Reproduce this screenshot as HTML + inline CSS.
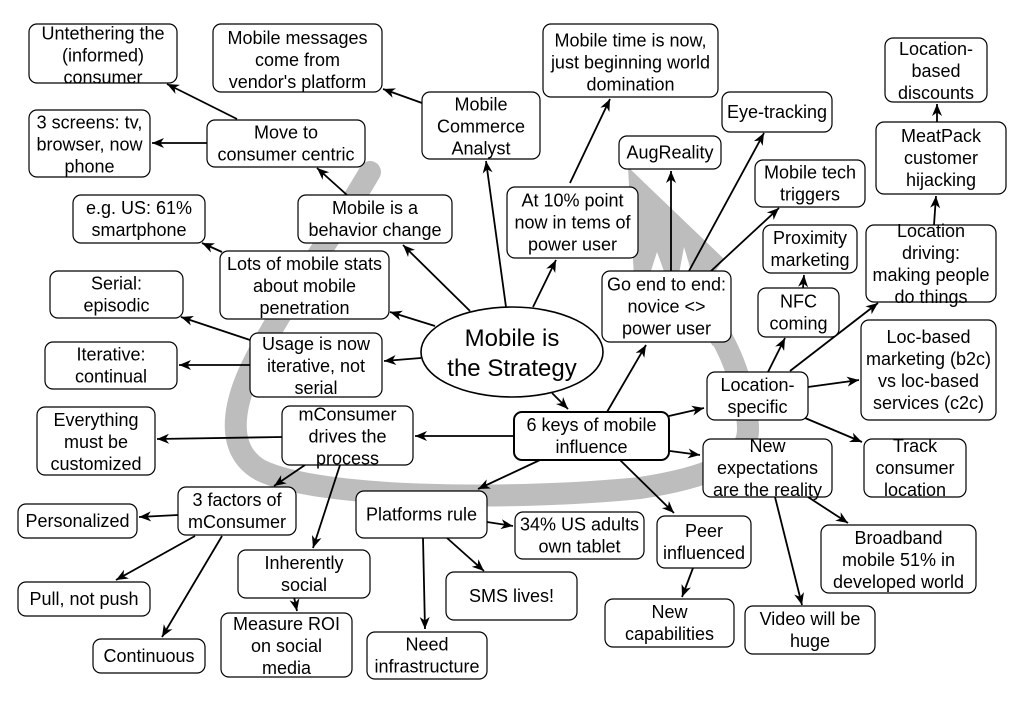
<!DOCTYPE html>
<html><head><meta charset="utf-8"><style>
html,body{margin:0;padding:0;background:#fff;}
svg{display:block;}
text{font-family:"Liberation Sans",Arial,sans-serif;font-size:18px;fill:#000;text-anchor:middle;}
.b{fill:#fff;stroke:#000;stroke-width:1.2;}
.l{stroke:#000;stroke-width:1.8;fill:none;marker-end:url(#ah);}
</style></head><body>
<svg width="1033" height="704" viewBox="0 0 1033 704" xmlns="http://www.w3.org/2000/svg">
<defs>
<marker id="ah" markerUnits="userSpaceOnUse" markerWidth="14" markerHeight="12" viewBox="-13 -6 14 12" refX="0" refY="0" orient="auto">
<path d="M-12,-5 L0,0 L-12,5 L-8.5,0 Z" fill="#000"/>
</marker>
</defs>
<rect width="1033" height="704" fill="#fff"/>
<!-- gray cycle arrow -->
<path d="M370,172 C330,240 280,310 255,360 C232,405 225,450 260,470 C320,500 520,500 640,488 C705,478 748,462 748,430 C748,400 735,360 720,335" fill="none" stroke="#bdbdbd" stroke-width="22" stroke-linecap="round"/>
<line x1="722" y1="340" x2="678" y2="272" stroke="#bdbdbd" stroke-width="22"/>
<polygon points="628,167 724,259 714,273 634,277" fill="#bdbdbd"/>
<polygon points="650,274 657,252 665,274" fill="#fff"/>
<polygon points="679,274 684,247 692,274" fill="#fff"/>
<!-- connectors -->
<line class="l" x1="237" y1="119" x2="167" y2="84"/>
<line class="l" x1="207" y1="143" x2="152" y2="143"/>
<line class="l" x1="422" y1="103" x2="383" y2="89"/>
<line class="l" x1="347" y1="195" x2="317" y2="168"/>
<line class="l" x1="222" y1="252" x2="202" y2="243"/>
<line class="l" x1="470" y1="311" x2="403" y2="245"/>
<line class="l" x1="435" y1="326" x2="390" y2="312"/>
<line class="l" x1="421" y1="358" x2="384" y2="361"/>
<line class="l" x1="506" y1="307" x2="486" y2="161"/>
<line class="l" x1="533" y1="307" x2="556" y2="260"/>
<line class="l" x1="570" y1="183" x2="610" y2="99"/>
<line class="l" x1="552" y1="393" x2="568" y2="409"/>
<line class="l" x1="250" y1="340" x2="181" y2="317"/>
<line class="l" x1="250" y1="365" x2="179" y2="365"/>
<line class="l" x1="282" y1="437" x2="157" y2="439"/>
<line class="l" x1="514" y1="436" x2="415" y2="436"/>
<line class="l" x1="305" y1="465" x2="274" y2="486"/>
<line class="l" x1="340" y1="465" x2="313" y2="548"/>
<line class="l" x1="178" y1="515" x2="139" y2="517"/>
<line class="l" x1="195" y1="536" x2="116" y2="580"/>
<line class="l" x1="222" y1="536" x2="162" y2="637"/>
<line class="l" x1="294" y1="597" x2="297" y2="611"/>
<line class="l" x1="540" y1="460" x2="478" y2="489"/>
<line class="l" x1="487" y1="522" x2="513" y2="526"/>
<line class="l" x1="447" y1="538" x2="484" y2="571"/>
<line class="l" x1="423" y1="538" x2="425" y2="629"/>
<line class="l" x1="620" y1="460" x2="674" y2="513"/>
<line class="l" x1="607" y1="412" x2="646" y2="345"/>
<line class="l" x1="669" y1="416" x2="704" y2="408"/>
<line class="l" x1="670" y1="451" x2="700" y2="455"/>
<line class="l" x1="671" y1="271" x2="671" y2="171"/>
<line class="l" x1="689" y1="271" x2="764" y2="133"/>
<line class="l" x1="711" y1="271" x2="779" y2="208"/>
<line class="l" x1="768" y1="372" x2="785" y2="338"/>
<line class="l" x1="803" y1="288" x2="804" y2="275"/>
<line class="l" x1="790" y1="371" x2="878" y2="303"/>
<line class="l" x1="808" y1="387" x2="859" y2="380"/>
<line class="l" x1="805" y1="418" x2="862" y2="442"/>
<line class="l" x1="934" y1="225" x2="936" y2="196"/>
<line class="l" x1="937" y1="122" x2="937" y2="104"/>
<line class="l" x1="775" y1="497" x2="802" y2="605"/>
<line class="l" x1="808" y1="497" x2="848" y2="523"/>
<line class="l" x1="693" y1="568" x2="682" y2="597"/>
<!-- nodes -->
<rect class="b" x="29" y="24" width="148" height="59" rx="8"/>
<text x="103"><tspan y="39.5" x="103">Untethering the</tspan><tspan y="61.5" x="103">(informed)</tspan><tspan y="83.5" x="103">consumer</tspan></text>
<rect class="b" x="213" y="24" width="169" height="68" rx="8"/>
<text><tspan y="44" x="297.5">Mobile messages</tspan><tspan y="66" x="297.5">come from</tspan><tspan y="88" x="297.5">vendor's platform</tspan></text>
<rect class="b" x="29" y="110" width="121" height="67" rx="8"/>
<text><tspan y="128.5" x="89.5">3 screens: tv,</tspan><tspan y="150.5" x="89.5">browser, now</tspan><tspan y="172.5" x="89.5">phone</tspan></text>
<rect class="b" x="207" y="120" width="158" height="47" rx="8"/>
<text><tspan y="138.5" x="286">Move to</tspan><tspan y="160.5" x="286">consumer centric</tspan></text>
<rect class="b" x="422" y="92" width="118" height="67" rx="8"/>
<text><tspan y="110.5" x="481">Mobile</tspan><tspan y="132.5" x="481">Commerce</tspan><tspan y="154.5" x="481">Analyst</tspan></text>
<rect class="b" x="73" y="195" width="132" height="48" rx="8"/>
<text><tspan y="214" x="139">e.g. US: 61%</tspan><tspan y="236" x="139">smartphone</tspan></text>
<rect class="b" x="298" y="195" width="154" height="48" rx="8"/>
<text><tspan y="214" x="375">Mobile is a</tspan><tspan y="236" x="375">behavior change</tspan></text>
<rect class="b" x="543" y="24" width="175" height="73" rx="8"/>
<text><tspan y="46.5" x="630.5">Mobile time is now,</tspan><tspan y="68.5" x="630.5">just beginning world</tspan><tspan y="90.5" x="630.5">domination</tspan></text>
<rect class="b" x="722" y="92" width="110" height="40" rx="8"/>
<text><tspan y="118" x="777">Eye-tracking</tspan></text>
<rect class="b" x="619" y="136" width="102" height="33" rx="8"/>
<text><tspan y="158.5" x="670">AugReality</tspan></text>
<rect class="b" x="885" y="38" width="102" height="64" rx="8"/>
<text><tspan y="55" x="936">Location-</tspan><tspan y="77" x="936">based</tspan><tspan y="99" x="936">discounts</tspan></text>
<rect class="b" x="876" y="122" width="130" height="72" rx="8"/>
<text><tspan y="142" x="941">MeatPack</tspan><tspan y="164" x="941">customer</tspan><tspan y="186" x="941">hijacking</tspan></text>
<rect class="b" x="755" y="160" width="110" height="47" rx="8"/>
<text><tspan y="178.5" x="810">Mobile tech</tspan><tspan y="200.5" x="810">triggers</tspan></text>
<rect class="b" x="507" y="187" width="131" height="71" rx="8"/>
<text><tspan y="206.5" x="572.5">At 10% point</tspan><tspan y="228.5" x="572.5">now in tems of</tspan><tspan y="250.5" x="572.5">power user</tspan></text>
<rect class="b" x="763" y="225" width="94" height="48" rx="8"/>
<text><tspan y="244" x="810">Proximity</tspan><tspan y="266" x="810">marketing</tspan></text>
<rect class="b" x="866" y="225" width="130" height="77" rx="8"/>
<text><tspan y="237" x="931">Location</tspan><tspan y="259" x="931">driving:</tspan><tspan y="281" x="931">making people</tspan><tspan y="303" x="931">do things</tspan></text>
<rect class="b" x="50" y="271" width="133" height="47" rx="8"/>
<text><tspan y="289.5" x="116.5">Serial:</tspan><tspan y="311.5" x="116.5">episodic</tspan></text>
<rect class="b" x="220" y="251" width="169" height="68" rx="8"/>
<text><tspan y="270" x="304.5">Lots of mobile stats</tspan><tspan y="292" x="304.5">about mobile</tspan><tspan y="314" x="304.5">penetration</tspan></text>
<rect class="b" x="45" y="342" width="132" height="47" rx="8"/>
<text><tspan y="360.5" x="111">Iterative:</tspan><tspan y="382.5" x="111">continual</tspan></text>
<rect class="b" x="250" y="333" width="132" height="64" rx="8"/>
<text><tspan y="350" x="316">Usage is now</tspan><tspan y="372" x="316">iterative, not</tspan><tspan y="394" x="316">serial</tspan></text>
<ellipse cx="512" cy="352" rx="91" ry="45" fill="#fff" stroke="#000" stroke-width="1.6"/>
<text style="font-size:24px"><tspan y="346" x="512">Mobile is</tspan><tspan y="376" x="512">the Strategy</tspan></text>
<rect class="b" x="37" y="407" width="118" height="68" rx="8"/>
<text><tspan y="426" x="96">Everything</tspan><tspan y="448" x="96">must be</tspan><tspan y="470" x="96">customized</tspan></text>
<rect class="b" x="282" y="406" width="131" height="59" rx="8"/>
<text><tspan y="420.5" x="347.5">mConsumer</tspan><tspan y="442.5" x="347.5">drives the</tspan><tspan y="464.5" x="347.5">process</tspan></text>
<rect class="b" x="602" y="271" width="129" height="71" rx="8"/>
<text><tspan y="290.5" x="666.5">Go end to end:</tspan><tspan y="312.5" x="666.5">novice &lt;&gt;</tspan><tspan y="334.5" x="666.5">power user</tspan></text>
<rect class="b" x="758" y="288" width="81" height="49" rx="8"/>
<text><tspan y="307.5" x="798.5">NFC</tspan><tspan y="329.5" x="798.5">coming</tspan></text>
<rect class="b" x="861" y="320" width="135" height="100" rx="8"/>
<text><tspan y="343" x="928.5">Loc-based</tspan><tspan y="365" x="928.5">marketing (b2c)</tspan><tspan y="387" x="928.5">vs loc-based</tspan><tspan y="409" x="928.5">services (c2c)</tspan></text>
<rect class="b" x="707" y="372" width="101" height="48" rx="8"/>
<text><tspan y="391" x="757.5">Location-</tspan><tspan y="413" x="757.5">specific</tspan></text>
<rect x="514" y="412" width="155" height="48" rx="8" fill="#fff" stroke="#000" stroke-width="2"/>
<text><tspan y="431" x="591.5">6 keys of mobile</tspan><tspan y="453" x="591.5">influence</tspan></text>
<rect class="b" x="703" y="439" width="129" height="58" rx="8"/>
<text><tspan y="452" x="767.5">New</tspan><tspan y="474" x="767.5">expectations</tspan><tspan y="496" x="767.5">are the reality</tspan></text>
<rect class="b" x="864" y="439" width="102" height="58" rx="8"/>
<text><tspan y="452" x="915">Track</tspan><tspan y="474" x="915">consumer</tspan><tspan y="496" x="915">location</tspan></text>
<rect class="b" x="178" y="487" width="118" height="48" rx="8"/>
<text><tspan y="506" x="237">3 factors of</tspan><tspan y="528" x="237">mConsumer</tspan></text>
<rect class="b" x="18" y="504" width="119" height="34" rx="8"/>
<text><tspan y="527" x="77.5">Personalized</tspan></text>
<rect class="b" x="356" y="491" width="131" height="47" rx="8"/>
<text><tspan y="520.5" x="421.5">Platforms rule</tspan></text>
<rect class="b" x="238" y="550" width="132" height="48" rx="8"/>
<text><tspan y="569" x="304">Inherently</tspan><tspan y="591" x="304">social</tspan></text>
<rect class="b" x="18" y="582" width="132" height="34" rx="8"/>
<text><tspan y="605" x="84">Pull, not push</tspan></text>
<rect class="b" x="446" y="572" width="131" height="48" rx="8"/>
<text><tspan y="602" x="511.5">SMS lives!</tspan></text>
<rect class="b" x="221" y="613" width="131" height="64" rx="8"/>
<text><tspan y="630" x="286.5">Measure ROI</tspan><tspan y="652" x="286.5">on social</tspan><tspan y="674" x="286.5">media</tspan></text>
<rect class="b" x="93" y="639" width="112" height="34" rx="8"/>
<text><tspan y="662" x="149">Continuous</tspan></text>
<rect class="b" x="367" y="632" width="120" height="47" rx="8"/>
<text><tspan y="650.5" x="427">Need</tspan><tspan y="672.5" x="427">infrastructure</tspan></text>
<rect class="b" x="515" y="512" width="129" height="47" rx="8"/>
<text><tspan y="530.5" x="579.5">34% US adults</tspan><tspan y="552.5" x="579.5">own tablet</tspan></text>
<rect class="b" x="657" y="516" width="94" height="52" rx="8"/>
<text><tspan y="537" x="704">Peer</tspan><tspan y="559" x="704">influenced</tspan></text>
<rect class="b" x="821" y="525" width="155" height="68" rx="8"/>
<text><tspan y="544" x="898.5">Broadband</tspan><tspan y="566" x="898.5">mobile 51% in</tspan><tspan y="588" x="898.5">developed world</tspan></text>
<rect class="b" x="605" y="599" width="129" height="48" rx="8"/>
<text><tspan y="618" x="669.5">New</tspan><tspan y="640" x="669.5">capabilities</tspan></text>
<rect class="b" x="745" y="606" width="130" height="48" rx="8"/>
<text><tspan y="625" x="810">Video will be</tspan><tspan y="647" x="810">huge</tspan></text>
</svg>
</body></html>
